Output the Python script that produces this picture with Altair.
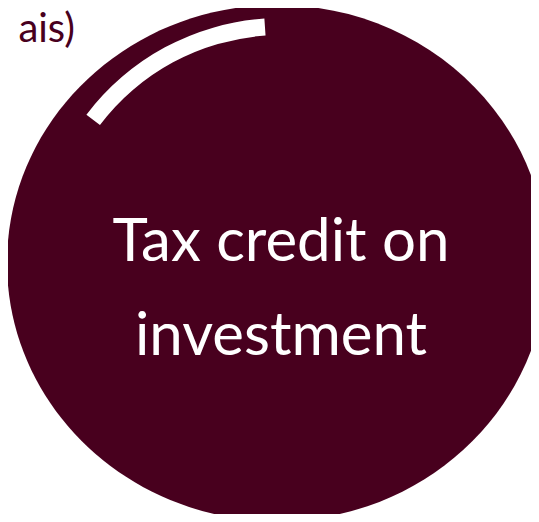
import altair as alt
import pandas as pd

W, H = 523, 506
MAROON = "#48001e"

# content
labels = ["Tax credit on", "investment"]
corner_label = ["ais)"]

# layout anchors (chart coordinates)
label_x = [273, 273]
label_y = [253, 347]
corner_x = [67]
corner_y = [34]
ellipse_x = [269]
ellipse_y = [255]
arc_x = [273]
arc_y = [254]

xs = alt.Scale(domain=[0, W], nice=False, zero=False)
ys = alt.Scale(domain=[0, H], nice=False, zero=False, reverse=True)

def enc(base):
    return base.encode(
        x=alt.X("x:Q", scale=xs, axis=None),
        y=alt.Y("y:Q", scale=ys, axis=None),
    )

ellipse_path = ("M-1,0C-1,-0.5277,-0.5523,-0.9556,0,-0.9556"
                "C0.5523,-0.9556,1,-0.5277,1,0"
                "C1,0.5277,0.5523,0.9556,0,0.9556"
                "C-0.5523,0.9556,-1,0.5277,-1,0Z")

ell = enc(alt.Chart(pd.DataFrame({"x": ellipse_x, "y": ellipse_y})).mark_point(
    shape=ellipse_path, size=540 ** 2, filled=True, fill=MAROON,
    opacity=1, strokeWidth=0))

arc = enc(alt.Chart(pd.DataFrame({"x": arc_x, "y": arc_y})).mark_arc(
    theta=5.36, theta2=6.215, innerRadius=227, outerRadius=244, color="white"))

txt = alt.Chart(pd.DataFrame({"x": label_x, "y": label_y, "t": labels})).mark_text(
    font="Lato", fontSize=60, color="white", align="center", baseline="alphabetic"
).encode(
    x=alt.X("x:Q", scale=xs, axis=None),
    y=alt.Y("y:Q", scale=ys, axis=None),
    text="t:N",
)

corner = alt.Chart(pd.DataFrame({"x": corner_x, "y": corner_y, "t": corner_label})).mark_text(
    font="Lato", fontSize=40, color=MAROON, align="right", baseline="alphabetic"
).encode(
    x=alt.X("x:Q", scale=xs, axis=None),
    y=alt.Y("y:Q", scale=ys, axis=None),
    text="t:N",
)

chart = alt.layer(ell, arc, txt, corner).properties(
    width=W, height=H, padding=0, autosize="none", background="white"
).configure_view(stroke=None)

chart.save("out.html", embed_options={"renderer": "svg", "actions": False})
